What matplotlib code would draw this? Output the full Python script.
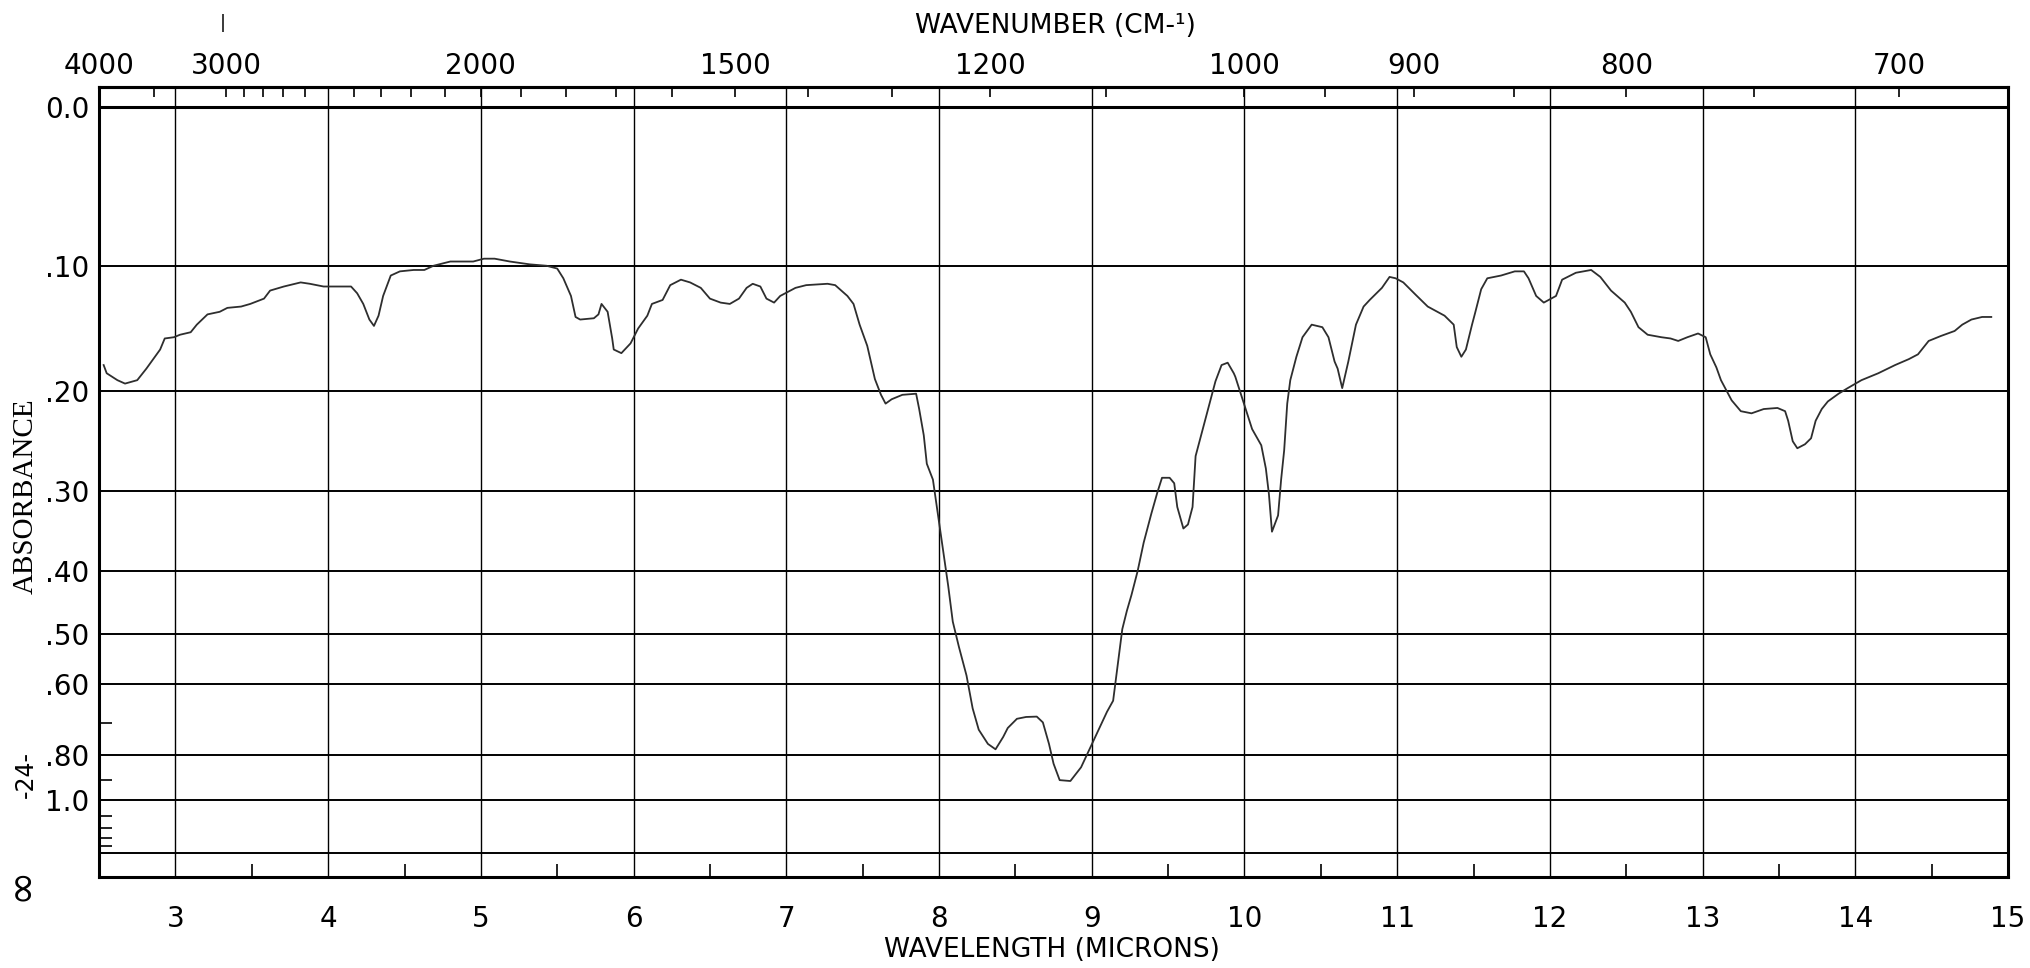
import numpy as np
import matplotlib
matplotlib.use('Agg')
import matplotlib.pyplot as plt

# Spectrum: wavelength (microns) and absorbance
wavelength = [2.53, 2.55, 2.62, 2.67, 2.75, 2.81, 2.90, 2.93, 2.99, 3.03, 3.10, 3.14, 3.21, 3.29,
              3.34, 3.43, 3.49, 3.58, 3.62, 3.71, 3.82, 3.88, 3.97, 4.04, 4.15, 4.19, 4.23, 4.27,
              4.30, 4.33, 4.36, 4.41, 4.47, 4.56, 4.63, 4.69, 4.80, 4.95, 5.02, 5.09, 5.19, 5.32,
              5.43, 5.50, 5.54, 5.59, 5.62, 5.65, 5.74, 5.77, 5.79, 5.83, 5.86, 5.87, 5.92, 5.98,
              6.03, 6.09, 6.12, 6.19, 6.24, 6.31, 6.37, 6.44, 6.50, 6.57, 6.63, 6.69, 6.74, 6.78,
              6.83, 6.87, 6.92, 6.96, 7.06, 7.13, 7.27, 7.32, 7.40, 7.44, 7.48, 7.53, 7.58, 7.62,
              7.65, 7.69, 7.76, 7.85, 7.87, 7.90, 7.92, 7.96, 8.06, 8.09, 8.13, 8.18, 8.22, 8.26,
              8.32, 8.37, 8.42, 8.45, 8.51, 8.57, 8.64, 8.68, 8.72, 8.75, 8.79, 8.86, 8.93, 9.05,
              9.10, 9.14, 9.17, 9.20, 9.23, 9.26, 9.30, 9.34, 9.39, 9.43, 9.46, 9.51, 9.54, 9.56,
              9.60, 9.63, 9.66, 9.68, 9.81, 9.85, 9.89, 9.93, 9.94, 10.05, 10.11, 10.14, 10.16,
              10.18, 10.22, 10.24, 10.26, 10.28, 10.30, 10.34, 10.38, 10.44, 10.51, 10.55, 10.59,
              10.61, 10.64, 10.68, 10.73, 10.78, 10.82, 10.90, 10.95, 10.99, 11.04, 11.12, 11.20,
              11.31, 11.37, 11.39, 11.42, 11.45, 11.49, 11.51, 11.55, 11.59, 11.68, 11.77, 11.83,
              11.86, 11.91, 11.96, 12.04, 12.08, 12.17, 12.27, 12.33, 12.40, 12.49, 12.53, 12.58,
              12.64, 12.73, 12.79, 12.84, 12.90, 12.97, 13.02, 13.05, 13.09, 13.12, 13.19, 13.25,
              13.32, 13.40, 13.49, 13.54, 13.56, 13.59, 13.62, 13.67, 13.71, 13.74, 13.78, 13.82,
              13.89, 13.95, 14.04, 14.15, 14.26, 14.35, 14.41, 14.48, 14.56, 14.65, 14.70, 14.76,
              14.83, 14.89]
absorbance = [0.177, 0.184, 0.190, 0.193, 0.190, 0.180, 0.164, 0.155, 0.154, 0.152, 0.150, 0.144,
              0.136, 0.134, 0.131, 0.130, 0.128, 0.124, 0.118, 0.115, 0.112, 0.113, 0.115, 0.115,
              0.115, 0.120, 0.128, 0.140, 0.145, 0.137, 0.122, 0.107, 0.104, 0.103, 0.103, 0.100,
              0.097, 0.097, 0.095, 0.095, 0.097, 0.099, 0.100, 0.102, 0.109, 0.122, 0.138, 0.140,
              0.139, 0.136, 0.128, 0.134, 0.155, 0.164, 0.167, 0.159, 0.147, 0.137, 0.128, 0.125,
              0.114, 0.110, 0.112, 0.116, 0.124, 0.127, 0.128, 0.124, 0.116, 0.113, 0.115, 0.124,
              0.127, 0.122, 0.116, 0.114, 0.113, 0.114, 0.122, 0.128, 0.144, 0.161, 0.189, 0.203,
              0.211, 0.207, 0.203, 0.202, 0.216, 0.241, 0.270, 0.287, 0.422, 0.479, 0.524, 0.582,
              0.659, 0.718, 0.762, 0.780, 0.740, 0.713, 0.687, 0.682, 0.681, 0.697, 0.762, 0.832,
              0.900, 0.904, 0.846, 0.713, 0.668, 0.640, 0.560, 0.492, 0.461, 0.436, 0.401, 0.362,
              0.326, 0.301, 0.285, 0.285, 0.291, 0.318, 0.344, 0.339, 0.318, 0.262, 0.191, 0.177,
              0.175, 0.184, 0.187, 0.235, 0.251, 0.275, 0.303, 0.348, 0.328, 0.287, 0.256, 0.211,
              0.190, 0.170, 0.154, 0.144, 0.146, 0.154, 0.174, 0.180, 0.197, 0.174, 0.144, 0.130,
              0.125, 0.116, 0.108, 0.109, 0.112, 0.121, 0.130, 0.137, 0.144, 0.162, 0.170, 0.164,
              0.144, 0.135, 0.117, 0.109, 0.107, 0.104, 0.104, 0.109, 0.122, 0.127, 0.122, 0.110,
              0.105, 0.103, 0.108, 0.118, 0.127, 0.134, 0.146, 0.152, 0.154, 0.155, 0.157, 0.154,
              0.151, 0.154, 0.168, 0.179, 0.190, 0.208, 0.218, 0.220, 0.216, 0.215, 0.218, 0.227,
              0.247, 0.254, 0.250, 0.244, 0.227, 0.216, 0.209, 0.202, 0.197, 0.190, 0.184, 0.177,
              0.172, 0.168, 0.157, 0.153, 0.149, 0.144, 0.140, 0.138, 0.138]

# axis ticks
abs_grid = [0.0, 0.10, 0.20, 0.30, 0.40, 0.50, 0.60, 0.80, 1.0, 1.5]
abs_labels = ['0.0', '.10', '.20', '.30', '.40', '.50', '.60', '.80', '1.0', '']
abs_minor = [0.70, 0.90, 1.1, 1.2, 1.3, 1.4]
micron_ticks = [3, 4, 5, 6, 7, 8, 9, 10, 11, 12, 13, 14, 15]
micron_half = [3.5, 4.5, 5.5, 6.5, 7.5, 8.5, 9.5, 10.5, 11.5, 12.5, 13.5, 14.5]
wn_major = [4000, 3000, 2000, 1500, 1200, 1000, 900, 800, 700]
wn_minor = [3500, 2900, 2800, 2700, 2600, 2400, 2300, 2200, 2100, 1900, 1800, 1700, 1600,
            1400, 1300, 1100, 950, 850, 750]


# absorbance axis is linear in transmittance
def to_frac(a):
    return 1 - 10.0 ** (-np.asarray(a, dtype=float))


def from_frac(t):
    with np.errstate(divide='ignore', invalid='ignore'):
        return -np.log10(np.clip(1 - np.asarray(t, dtype=float), 1e-12, None))


def wn(x):
    x = np.asarray(x, dtype=float)
    with np.errstate(divide='ignore', invalid='ignore'):
        return 1e4 / x


plt.rcParams['font.family'] = ['DejaVu Sans']

fig = plt.figure(figsize=(20.3, 9.68), dpi=100)
ax = fig.add_axes([0.0488, 0.094, 0.9404, 0.8161])
ax.set_yscale('function', functions=(to_frac, from_frac))
ax.set_xlim(2.5, 15)
ax.set_ylim(6, -0.0114)

ax.plot(wavelength, absorbance, color='#2e2e2e', lw=1.3, zorder=3)

# y axis
ax.set_yticks(abs_grid, labels=abs_labels)
ax.set_yticks(abs_minor, minor=True)
ax.tick_params(axis='y', which='major', length=0, pad=7, labelsize=20)
ax.tick_params(axis='y', which='minor', direction='in', length=9, width=1.2)

# x axis (microns)
ax.set_xticks(micron_ticks)
ax.set_xticks(micron_half, minor=True)
ax.tick_params(axis='x', which='major', length=0, pad=20, labelsize=20)
ax.tick_params(axis='x', which='minor', direction='in', length=9.5, width=1.2)

ax.grid(axis='y', which='major', color='black', lw=1.4)
ax.grid(axis='x', which='major', color='black', lw=1.0)
ax.axhline(abs_grid[0], color='black', lw=2.2)
for s in ax.spines.values():
    s.set_linewidth(2.2)

# top axis (wavenumber)
sec = ax.secondary_xaxis('top', functions=(wn, wn))
sec.set_xticks(wn_major, labels=[str(w) for w in wn_major])
sec.set_xticks(wn_minor, minor=True)
sec.tick_params(which='both', direction='in', length=7, width=1.2, pad=5, labelsize=20)
sec.spines['top'].set_linewidth(2.2)

fig.text(1055 / 2030, 1 - 26 / 968, 'WAVENUMBER (CM-¹)', ha='center', va='center', fontsize=19)
fig.text(1052 / 2030, 1 - 950 / 968, 'WAVELENGTH (MICRONS)', ha='center', va='center', fontsize=19)
fig.text(26 / 2030, 1 - 496 / 968, 'ABSORBANCE', rotation=90, ha='center', va='center',
         family='Liberation Serif', fontsize=21)
fig.text(26 / 2030, 1 - 775 / 968, '-24-', rotation=90, ha='center', va='center', fontsize=17)
fig.text(20 / 2030, 1 - 884 / 968, '∞', rotation=90, ha='center', va='center', fontsize=30)
fig.text(223 / 2030, 1 - 23 / 968, '|', ha='center', va='center', fontsize=13)

fig.savefig('out.png', dpi=100)
